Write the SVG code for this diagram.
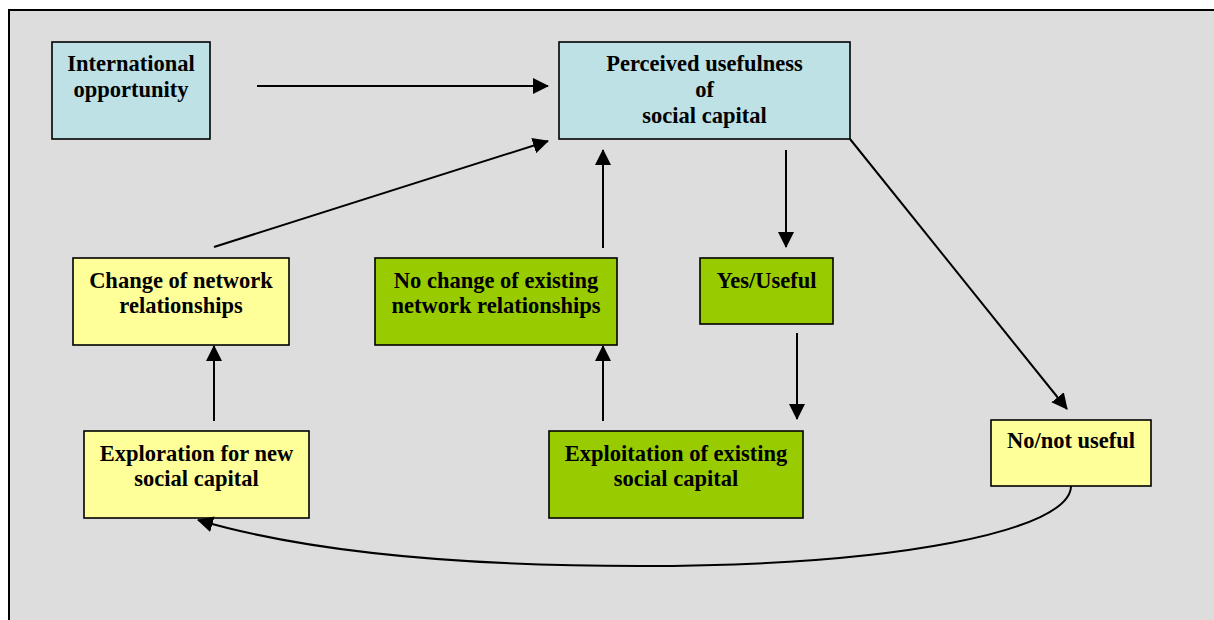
<svg xmlns="http://www.w3.org/2000/svg" width="1214" height="620" viewBox="0 0 1214 620">
<style>
.box{stroke:#000;stroke-width:1.6}
.blue{fill:#BDE1E4}
.yellow{fill:#FFFF99}
.green{fill:#99CC00}
text{font-family:"Liberation Serif","Times New Roman",serif;font-weight:bold;font-size:22.5px;fill:#000;text-anchor:middle}
.edge{fill:none;stroke:#000;stroke-width:2}
</style>
<defs>
<marker id="ah" markerUnits="userSpaceOnUse" markerWidth="17" markerHeight="17" refX="15" refY="8" orient="auto">
<path d="M0,0 L16,8 L0,16 z" fill="#000"/>
</marker>
</defs>
<rect x="0" y="0" width="1214" height="620" fill="#fff"/>
<rect x="9" y="10" width="1230" height="630" fill="#DDDDDD" stroke="#000" stroke-width="2"/>
<g id="n-international">
<rect class="box blue" x="52" y="42" width="158" height="97"/>
<text x="131" y="71">International</text>
<text x="131" y="97">opportunity</text>
</g>
<g id="n-perceived">
<rect class="box blue" x="559" y="42" width="291" height="97"/>
<text x="704.5" y="71">Perceived usefulness</text>
<text x="704.5" y="97">of</text>
<text x="704.5" y="123">social capital</text>
</g>
<g id="n-change">
<rect class="box yellow" x="73" y="258" width="216" height="87"/>
<text x="181" y="288">Change of network</text>
<text x="181" y="313">relationships</text>
</g>
<g id="n-nochange">
<rect class="box green" x="375" y="258" width="242" height="87"/>
<text x="496" y="288">No change of existing</text>
<text x="496" y="313">network relationships</text>
</g>
<g id="n-yes">
<rect class="box green" x="700" y="258" width="133" height="66"/>
<text x="766.5" y="288">Yes/Useful</text>
</g>
<g id="n-exploration">
<rect class="box yellow" x="84" y="431" width="225" height="87"/>
<text x="196.5" y="461">Exploration for new</text>
<text x="196.5" y="486">social capital</text>
</g>
<g id="n-exploitation">
<rect class="box green" x="549" y="431" width="254" height="87"/>
<text x="676" y="461">Exploitation of existing</text>
<text x="676" y="486">social capital</text>
</g>
<g id="n-notuseful">
<rect class="box yellow" x="991" y="420" width="160" height="66"/>
<text x="1071" y="448">No/not useful</text>
</g>
<g id="connectors">
<line class="edge" x1="257" y1="86" x2="548" y2="86" marker-end="url(#ah)"/>
<line class="edge" x1="214" y1="247" x2="548" y2="141" marker-end="url(#ah)"/>
<line class="edge" x1="603" y1="248" x2="603" y2="150" marker-end="url(#ah)"/>
<line class="edge" x1="786" y1="150" x2="786" y2="247" marker-end="url(#ah)"/>
<line class="edge" x1="850" y1="139" x2="1067" y2="409" stroke-width="1.6" marker-end="url(#ah)"/>
<line class="edge" x1="214" y1="421" x2="214" y2="346" marker-end="url(#ah)"/>
<line class="edge" x1="603" y1="421" x2="603" y2="346" marker-end="url(#ah)"/>
<line class="edge" x1="797" y1="333" x2="797" y2="419" marker-end="url(#ah)"/>
<path class="edge" d="M1071,486 C1071,530 900,566 640,566 C450,566 300,550 198,520" marker-end="url(#ah)"/>
</g>
</svg>
